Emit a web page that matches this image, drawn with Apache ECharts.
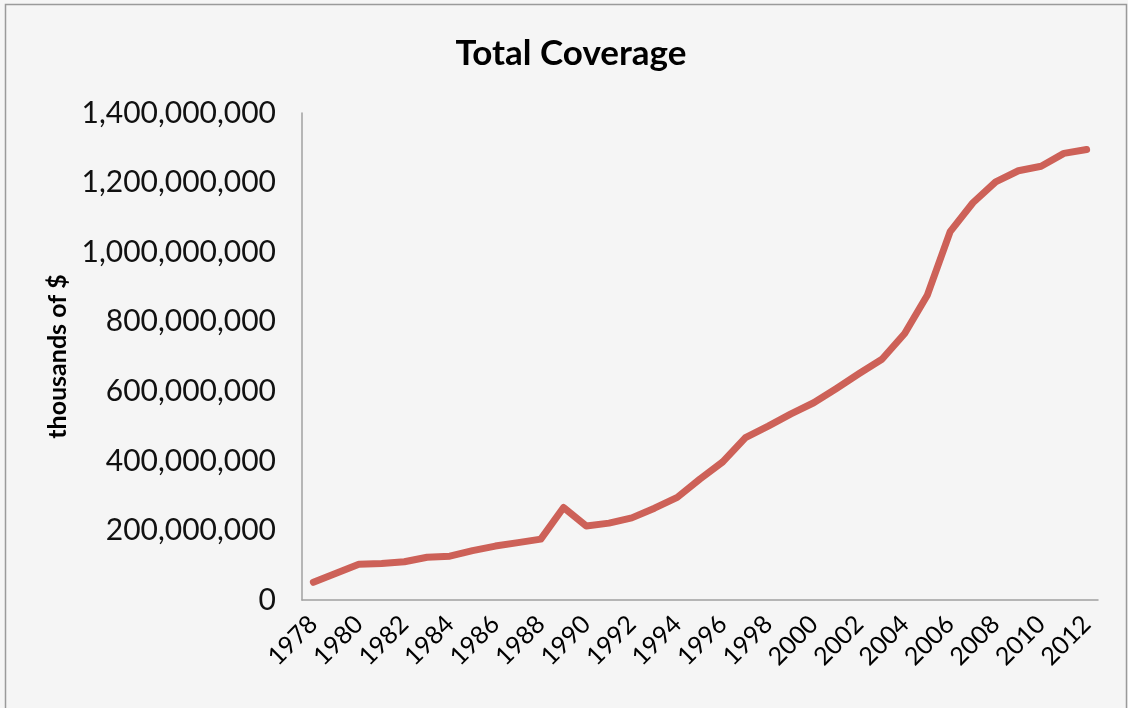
<!DOCTYPE html>
<html>
<head>
<meta charset="utf-8">
<script src="https://cdn.jsdelivr.net/npm/echarts@6/dist/echarts.min.js"></script>
<style>
html,body{margin:0;padding:0;background:#f5f5f5;}
#chart{width:1128px;height:708px;}
</style>
</head>
<body>
<div id="chart"></div>
<script>
const years = ['1978','1979','1980','1981','1982','1983','1984','1985','1986','1987','1988','1989','1990','1991','1992','1993','1994','1995','1996','1997','1998','1999','2000','2001','2002','2003','2004','2005','2006','2007','2008','2009','2010','2011','2012'];
const totalCoverage = [51000000,77000000,103000000,105000000,110000000,123000000,126000000,142000000,155000000,165000000,175000000,266000000,213000000,221000000,236000000,264000000,295000000,348000000,397000000,467000000,500000000,535000000,567000000,608000000,651000000,692000000,766000000,877000000,1059000000,1142000000,1202000000,1234000000,1247000000,1284000000,1295000000];
const yTicks = [0,200000000,400000000,600000000,800000000,1000000000,1200000000,1400000000];
const titleText = 'Total Coverage';
const yAxisName = 'thousands of $';

const chart = echarts.init(document.getElementById('chart'));
chart.setOption({
  backgroundColor: '#f5f5f5',
  animation: false,
  title: {
    text: titleText,
    left: 566, top: 31,
    textAlign: 'center',
    textStyle: {fontFamily: 'Lato', fontWeight: 'bold', fontSize: 35, color: '#000'}
  },
  graphic: [{
    type: 'rect', silent: true,
    shape: {x: 5.5, y: 4.5, width: 1121, height: 710},
    style: {fill: 'none', stroke: '#9a9a9a', lineWidth: 1.5}
  }],
  grid: {left: 302, right: 30, top: 113, bottom: 108, containLabel: false},
  xAxis: {
    type: 'category',
    data: years,
    boundaryGap: true,
    axisLine: {lineStyle: {color: '#a0a0a0', width: 1.5}},
    axisTick: {show: false},
    axisLabel: {interval: 1, rotate: 45, margin: 20, fontFamily: 'Lato', fontSize: 25, color: '#000'}
  },
  yAxis: {
    type: 'value',
    min: yTicks[0], max: yTicks[yTicks.length - 1], interval: 200000000,
    name: yAxisName,
    nameLocation: 'middle',
    nameGap: 228,
    nameTextStyle: {fontFamily: 'Lato', fontWeight: 'bold', fontSize: 25, color: '#000'},
    axisLine: {show: true, lineStyle: {color: '#a0a0a0', width: 1.5}},
    axisTick: {show: false},
    splitLine: {show: false},
    axisLabel: {
      margin: 26, fontFamily: 'Lato', fontSize: 30, color: '#111',
      formatter: v => v.toLocaleString('en-US')
    }
  },
  series: [{
    type: 'line',
    data: totalCoverage,
    symbol: 'none',
    lineStyle: {color: '#cd6158', width: 7, cap: 'round', join: 'round'},
    itemStyle: {color: '#cd6158'}
  }]
});
</script>
</body>
</html>
